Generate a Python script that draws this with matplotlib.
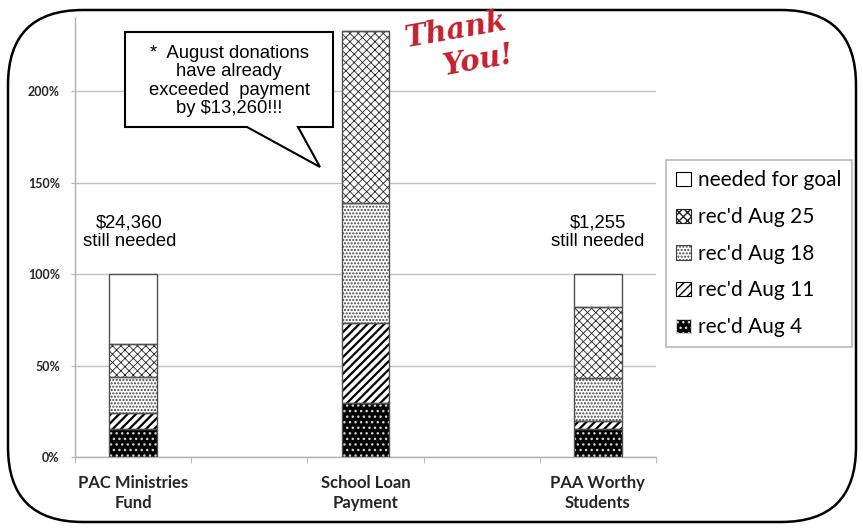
import matplotlib
matplotlib.use("Agg")
import matplotlib.pyplot as plt
from matplotlib.patches import Patch, FancyBboxPatch, Polygon
from matplotlib.ticker import FuncFormatter, FixedLocator

# fraction of goal received per week
funds = ["PAC Ministries\nFund", "School Loan\nPayment", "PAA Worthy\nStudents"]
fund_slots = [0, 2, 4]
aug4 = [0.153, 0.293, 0.153]
aug11 = [0.089, 0.441, 0.042]
aug18 = [0.193, 0.652, 0.235]
aug25 = [0.180, 0.940, 0.390]
goal_left = [0.385, 0.0, 0.180]
series_names = ["rec'd Aug 4", "rec'd Aug 11", "rec'd Aug 18", "rec'd Aug 25", "needed for goal"]
still_needed = ["$24,360\nstill needed", "", "$1,255\nstill needed"]
y_ticks = [0, 0.5, 1.0, 1.5, 2.0]

# face, hatch colour, hatch, hatch width
styles = [
    ("black", "#d0d0d0", "...", 1.0),
    ("white", "black", "////", 1.6),
    ("white", "#444444", ".....", 1.0),
    ("white", "#222222", "xxxx", 0.6),
    ("white", "white", None, 1.0),
]

W, H = 863, 529
fig = plt.figure(figsize=(W / 100, H / 100), dpi=100)
ax = fig.add_axes([75 / W, 72 / H, 581 / W, 0.830])

plt.rcParams["hatch.linewidth"] = 1.0
bottoms = [0.0, 0.0, 0.0]
for vals, (face, hcol, hatch, hlw) in zip([aug4, aug11, aug18, aug25, goal_left], styles):
    bars = ax.bar(fund_slots, vals, 0.41, bottom=bottoms, color=face, edgecolor=hcol,
                  hatch=hatch, linewidth=0, zorder=2)
    for b in bars:
        if hasattr(b, "set_hatch_linewidth"):
            b.set_hatch_linewidth(hlw)
    ax.bar(fund_slots, vals, 0.41, bottom=bottoms, fill=False, edgecolor="#505050",
           linewidth=1.0, zorder=3)
    bottoms = [b + v for b, v in zip(bottoms, vals)]

for x, top, txt in zip(fund_slots, bottoms, still_needed):
    if txt:
        ax.text(x - (0.03 if x == 0 else 0), top + 0.23, txt, ha="center", va="center",
                fontsize=13.3, family="Liberation Sans", linespacing=1.12)

ax.set_xlim(-0.5, 4.5)
ax.set_ylim(0, 2.4)
ax.yaxis.set_major_locator(FixedLocator(y_ticks))
ax.yaxis.set_major_formatter(FuncFormatter(lambda v, p: f"{v * 100:.0f}%"))
ax.grid(axis="y", color="#c0c0c0", linewidth=1.0, zorder=0)
ax.set_axisbelow(True)
for s in ["top", "right"]:
    ax.spines[s].set_visible(False)
for s in ["left", "bottom"]:
    ax.spines[s].set_color("#b0b0b0")
    ax.spines[s].set_linewidth(1.0)
ax.set_xticks(fund_slots)
ax.set_xticklabels(funds, fontsize=12, fontweight="bold", family="Lato", color="#262626",
                   linespacing=1.3)
ax.set_xticks([-0.5, 0.5, 1.5, 2.5, 3.5, 4.5], minor=True)
ax.tick_params(axis="x", which="major", length=0, pad=13)
ax.tick_params(axis="x", which="minor", length=4, color="#b0b0b0", direction="out")
ax.tick_params(axis="y", length=3, color="#b0b0b0", pad=8)
for lab in ax.get_yticklabels():
    lab.set_fontsize(9)
    lab.set_fontweight("bold")
    lab.set_family("Lato")
    lab.set_color("#262626")

handles = []
for (face, hcol, hatch, hlw) in styles:
    if hatch is None:
        handles.append(Patch(facecolor="white", edgecolor="black", linewidth=0.8))
    else:
        handles.append(Patch(facecolor=face, edgecolor=hcol, hatch=hatch, linewidth=0.8))
leg = fig.legend(handles[::-1], series_names[::-1], loc="upper left",
                 bbox_to_anchor=(666 / W, 1 - 160 / H), borderaxespad=0,
                 prop={"family": "Lato", "size": 15}, frameon=True, fancybox=False,
                 edgecolor="#a6a6a6", handlelength=0.68, handleheight=0.68,
                 handletextpad=0.35, labelspacing=0.8, borderpad=0.5)
leg.get_frame().set_linewidth(1.2)

# overlay in pixel coordinates for the frame and the callout
ov = fig.add_axes([0, 0, 1, 1], facecolor="none")
ov.set_xlim(0, W)
ov.set_ylim(H, 0)
ov.axis("off")
ov.add_patch(FancyBboxPatch((8, 10), 848, 512, boxstyle="round,pad=0,rounding_size=75",
                            fill=False, edgecolor="black", linewidth=1.8))
ov.add_patch(Polygon([(125, 32), (333, 32), (333, 127), (298, 127), (320, 167),
                      (247, 127), (125, 127)], closed=True, facecolor="white",
                     edgecolor="black", linewidth=1.5))
ov.text(229, 81, "*  August donations\nhave already\nexceeded  payment\nby $13,260!!!",
        ha="center", va="center", fontsize=13.3, family="Liberation Sans", linespacing=1.12)
ov.text(456, 30, "Thank", ha="center", va="center", fontsize=21, family="DejaVu Serif",
        style="italic", fontweight="bold", color="#c4212e", rotation=10)
ov.text(478, 60, "You!", ha="center", va="center", fontsize=21, family="DejaVu Serif",
        style="italic", fontweight="bold", color="#c4212e", rotation=10)

fig.savefig("out.png", dpi=100)
